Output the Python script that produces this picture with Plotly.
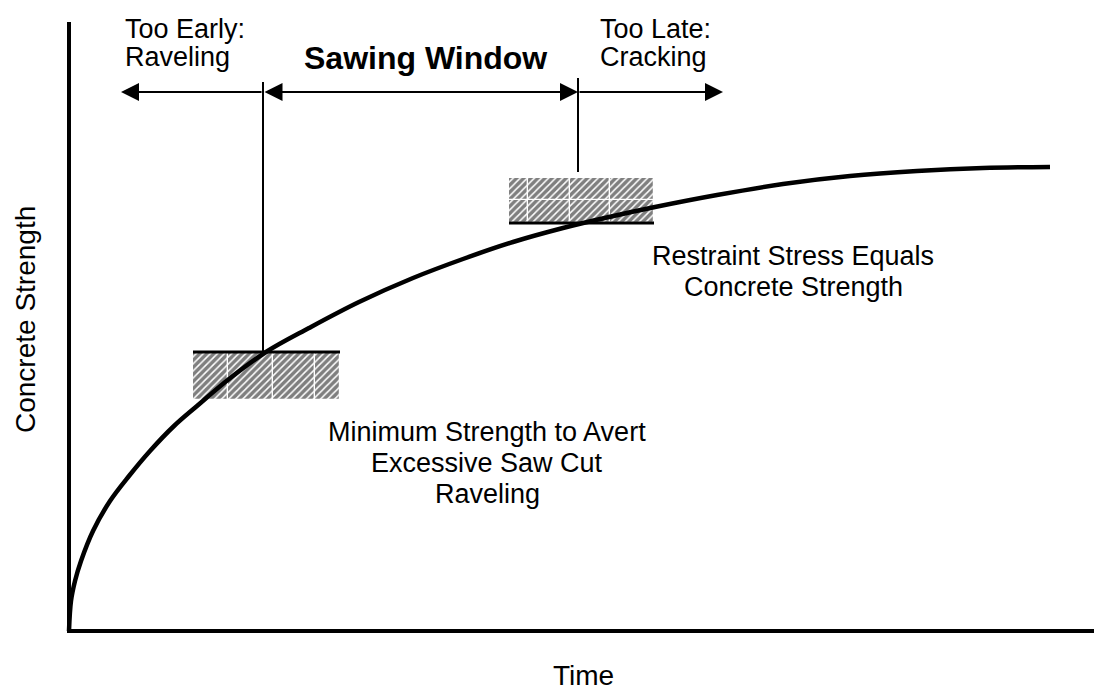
import plotly.graph_objects as go

# ---- data (time / strength in arbitrary units) ----
time_pts = [0, 2, 6, 12, 24, 41, 60, 81, 105, 128, 160, 197, 240, 290, 344, 394, 444, 494, 540, 586, 648, 714, 781, 848, 914, 981]
strength_pts = [0, 30, 50, 70, 100, 130, 155, 180, 205, 225, 252, 279, 303, 329, 353, 372, 389, 403, 414, 424, 436, 447, 455, 460, 463, 464]

box1_edges = [124, 159, 204, 246, 271]
box1_rows = [231, 279]
box2_edges = [440, 459, 501, 541, 585]
box2_rows = [408, 431, 453]

min_strength = 279
restraint_strength = 408
window_start = 194
window_end = 509
arrow_level = 539
early_arrow_end = 52
late_arrow_end = 654

FONT = "Liberation Sans, Arial, sans-serif"

fig = go.Figure()

def add_cells(edges, rows):
    xs, ws, bs, hs = [], [], [], []
    for r in range(len(rows) - 1):
        for i in range(len(edges) - 1):
            xs.append((edges[i] + edges[i + 1]) / 2)
            ws.append(edges[i + 1] - edges[i])
            bs.append(rows[r])
            hs.append(rows[r + 1] - rows[r])
    fig.add_trace(go.Bar(
        x=xs, y=hs, base=bs, width=ws,
        marker=dict(color="white",
                    pattern=dict(shape="/", fgcolor="black", bgcolor="white", size=5, solidity=0.7),
                    line=dict(color="white", width=1.2)),
        showlegend=False, hoverinfo="skip"))

add_cells(box1_edges, box1_rows)
add_cells(box2_edges, box2_rows)

fig.add_trace(go.Scatter(x=time_pts, y=strength_pts, mode="lines",
                         line=dict(color="black", width=4.5, shape="spline", smoothing=1),
                         showlegend=False, hoverinfo="skip"))

shapes = [
    # axes
    dict(type="line", x0=0, x1=1040, y0=0, y1=0, line=dict(color="black", width=4)),
    dict(type="line", x0=0, x1=0, y0=-2, y1=609, line=dict(color="black", width=4)),
    # threshold lines
    dict(type="line", x0=box1_edges[0], x1=box1_edges[-1], y0=min_strength, y1=min_strength,
         line=dict(color="black", width=3)),
    dict(type="line", x0=box2_edges[0], x1=box2_edges[-1], y0=restraint_strength, y1=restraint_strength,
         line=dict(color="black", width=3)),
    # vertical markers
    dict(type="line", x0=window_start, x1=window_start, y0=min_strength, y1=arrow_level + 10,
         line=dict(color="black", width=2)),
    dict(type="line", x0=window_end, x1=window_end, y0=box2_rows[-1] + 6, y1=arrow_level + 14,
         line=dict(color="black", width=2)),
]

ann = []
def arrow(x_tip, x_tail, both=False):
    ann.append(dict(x=x_tip, y=arrow_level, ax=x_tail, ay=arrow_level, xref="x", yref="y",
                    axref="x", ayref="y", text="", showarrow=True, arrowhead=2, arrowsize=1.8,
                    arrowwidth=2, arrowcolor="black",
                    arrowside="end+start" if both else "end"))

arrow(early_arrow_end, window_start)
arrow(window_end, window_start, both=True)
arrow(late_arrow_end, window_end)

def text(x, y, s, size=27, bold=False, xanchor="center", angle=0):
    ann.append(dict(x=x, y=y, xref="x", yref="y", text=f"<b>{s}</b>" if bold else s,
                    showarrow=False, xanchor=xanchor, yanchor="middle", textangle=angle,
                    font=dict(family=FONT, size=size, color="black")))

text(54, 602, "Too Early:", xanchor="left")
text(54, 574, "Raveling", xanchor="left")
text(529, 602, "Too Late:", xanchor="left")
text(529, 574, "Cracking", xanchor="left")
text(356, 573, "Sawing Window", size=32, bold=True)
text(724, 375, "Restraint Stress Equals")
text(724, 344, "Concrete Strength")
text(418, 199, "Minimum Strength to Avert")
text(418, 168, "Excessive Saw Cut")
text(418, 137, "Raveling")
text(-44, 311, "Concrete Strength", size=28, angle=-90)
text(514, -44, "Time", size=28)

# page body has an 8px default margin, so the figure is sized to fit the window
fig.update_layout(
    width=1094, height=682, margin=dict(l=0, r=0, t=0, b=0),
    paper_bgcolor="white", plot_bgcolor="white",
    barmode="overlay", bargap=0,
    shapes=shapes, annotations=ann,
    xaxis=dict(range=[-61, 1033], visible=False, fixedrange=True),
    yaxis=dict(range=[-59, 623], visible=False, fixedrange=True),
)

fig.write_html("out.html")
